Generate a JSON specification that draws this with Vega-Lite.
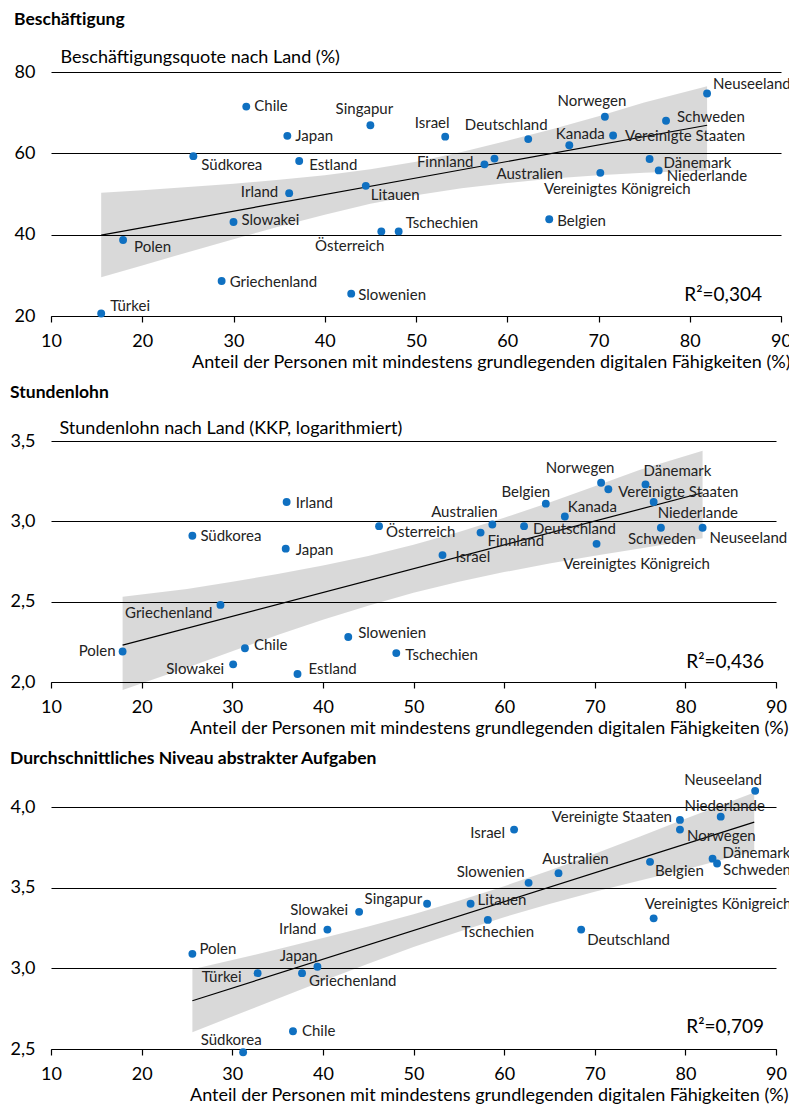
{
  "$schema": "https://vega.github.io/schema/vega-lite/v6.json",
  "background": "white",
  "padding": {"left": 10, "top": 11, "right": 0, "bottom": 0},
  "config": {
    "font": "Lato",
    "view": {"stroke": null},
    "title": {"anchor": "start", "frame": "bounds", "fontSize": 17.5, "fontWeight": "bold", "color": "#000", "baseline": "bottom"},
    "axisX": {"grid": false, "domainColor": "#000", "domainWidth": 1.2, "tickColor": "#000", "tickSize": 6, "tickWidth": 1.2, "labelFontSize": 18, "labelColor": "#000", "labelPadding": 10, "labelFlush": false, "titleFontSize": 18, "titleFontWeight": "normal", "titleColor": "#000", "titleAlign": "right", "titleBaseline": "alphabetic"},
    "axisY": {"grid": true, "gridColor": "#000", "gridWidth": 1.2, "gridOpacity": 1, "domain": false, "ticks": false, "labelFontSize": 18, "labelColor": "#000", "labelPadding": 16, "labelFlush": false, "titleAngle": 0, "titleAlign": "left", "titleBaseline": "alphabetic", "titleFontSize": 18, "titleFontWeight": "normal", "titleColor": "#000"},
    "text": {"fontSize": 15, "baseline": "middle", "color": "#222"}
  },
  "datasets": {
    "beschaeftigung": [
      {"land": "Chile", "x": 31.4, "y": 71.5},
      {"land": "Singapur", "x": 45.0, "y": 66.9},
      {"land": "Japan", "x": 35.9, "y": 64.3},
      {"land": "Südkorea", "x": 25.6, "y": 59.3},
      {"land": "Estland", "x": 37.2, "y": 58.1},
      {"land": "Irland", "x": 36.1, "y": 50.2},
      {"land": "Litauen", "x": 44.5, "y": 52.0},
      {"land": "Slowakei", "x": 30.0, "y": 43.1},
      {"land": "Polen", "x": 17.9, "y": 38.7},
      {"land": "Österreich", "x": 46.2, "y": 40.8},
      {"land": "Tschechien", "x": 48.1, "y": 40.8},
      {"land": "Griechenland", "x": 28.7, "y": 28.6},
      {"land": "Slowenien", "x": 42.9, "y": 25.5},
      {"land": "Türkei", "x": 15.5, "y": 20.6},
      {"land": "Israel", "x": 53.2, "y": 64.1},
      {"land": "Deutschland", "x": 62.3, "y": 63.5},
      {"land": "Kanada", "x": 66.8, "y": 62.0},
      {"land": "Norwegen", "x": 70.7, "y": 69.0},
      {"land": "Vereinigte Staaten", "x": 71.6, "y": 64.4},
      {"land": "Schweden", "x": 77.4, "y": 68.0},
      {"land": "Neuseeland", "x": 81.9, "y": 74.7},
      {"land": "Finnland", "x": 57.5, "y": 57.3},
      {"land": "Australien", "x": 58.6, "y": 58.7},
      {"land": "Vereinigtes Königreich", "x": 70.2, "y": 55.2},
      {"land": "Dänemark", "x": 75.6, "y": 58.6},
      {"land": "Niederlande", "x": 76.6, "y": 55.8},
      {"land": "Belgien", "x": 64.6, "y": 43.8}
    ],
    "band_beschaeftigung": [
      {"x": 15.5, "unten": 29.5, "oben": 50.3},
      {"x": 20, "unten": 32.4, "oben": 50.9},
      {"x": 25, "unten": 35.7, "oben": 51.7},
      {"x": 30, "unten": 38.9, "oben": 52.5},
      {"x": 35, "unten": 42.0, "oben": 53.5},
      {"x": 40, "unten": 44.9, "oben": 54.6},
      {"x": 45, "unten": 47.6, "oben": 56.1},
      {"x": 50, "unten": 49.7, "oben": 57.9},
      {"x": 55, "unten": 51.4, "oben": 60.3},
      {"x": 60, "unten": 52.7, "oben": 63.1},
      {"x": 65, "unten": 53.8, "oben": 66.0},
      {"x": 70, "unten": 54.6, "oben": 69.1},
      {"x": 75, "unten": 55.2, "oben": 72.5},
      {"x": 81.9, "unten": 55.8, "oben": 76.5}
    ],
    "fit_beschaeftigung": [
      {"x": 15.5, "y": 39.9},
      {"x": 81.9, "y": 66.9}
    ],
    "lohn": [
      {"land": "Irland", "x": 36.0, "y": 3.12},
      {"land": "Südkorea", "x": 25.6, "y": 2.91},
      {"land": "Japan", "x": 35.9, "y": 2.83},
      {"land": "Österreich", "x": 46.2, "y": 2.97},
      {"land": "Griechenland", "x": 28.7, "y": 2.48},
      {"land": "Slowenien", "x": 42.8, "y": 2.28},
      {"land": "Chile", "x": 31.4, "y": 2.21},
      {"land": "Polen", "x": 17.9, "y": 2.19},
      {"land": "Slowakei", "x": 30.1, "y": 2.11},
      {"land": "Estland", "x": 37.2, "y": 2.05},
      {"land": "Tschechien", "x": 48.1, "y": 2.18},
      {"land": "Israel", "x": 53.2, "y": 2.79},
      {"land": "Finnland", "x": 57.4, "y": 2.93},
      {"land": "Australien", "x": 58.7, "y": 2.98},
      {"land": "Deutschland", "x": 62.2, "y": 2.97},
      {"land": "Belgien", "x": 64.6, "y": 3.11},
      {"land": "Kanada", "x": 66.7, "y": 3.03},
      {"land": "Norwegen", "x": 70.7, "y": 3.24},
      {"land": "Vereinigte Staaten", "x": 71.5, "y": 3.2},
      {"land": "Dänemark", "x": 75.6, "y": 3.23},
      {"land": "Niederlande", "x": 76.5, "y": 3.12},
      {"land": "Schweden", "x": 77.3, "y": 2.96},
      {"land": "Neuseeland", "x": 81.9, "y": 2.96},
      {"land": "Vereinigtes Königreich", "x": 70.2, "y": 2.86}
    ],
    "band_lohn": [
      {"x": 17.9, "unten": 1.95, "oben": 2.53},
      {"x": 25, "unten": 2.089, "oben": 2.579},
      {"x": 30, "unten": 2.192, "oben": 2.624},
      {"x": 35, "unten": 2.292, "oben": 2.672},
      {"x": 40, "unten": 2.387, "oben": 2.725},
      {"x": 45, "unten": 2.475, "oben": 2.785},
      {"x": 50, "unten": 2.555, "oben": 2.855},
      {"x": 55, "unten": 2.624, "oben": 2.934},
      {"x": 60, "unten": 2.684, "oben": 3.022},
      {"x": 65, "unten": 2.737, "oben": 3.117},
      {"x": 70, "unten": 2.786, "oben": 3.218},
      {"x": 75, "unten": 2.831, "oben": 3.321},
      {"x": 81.9, "unten": 2.895, "oben": 3.44}
    ],
    "fit_lohn": [
      {"x": 17.9, "y": 2.23},
      {"x": 81.9, "y": 3.178}
    ],
    "aufgaben": [
      {"land": "Slowakei", "x": 44.0, "y": 3.35},
      {"land": "Irland", "x": 40.5, "y": 3.24},
      {"land": "Polen", "x": 25.6, "y": 3.09},
      {"land": "Türkei", "x": 32.8, "y": 2.97},
      {"land": "Griechenland", "x": 37.7, "y": 2.97},
      {"land": "Japan", "x": 39.4, "y": 3.01},
      {"land": "Chile", "x": 36.7, "y": 2.61},
      {"land": "Südkorea", "x": 31.2, "y": 2.48},
      {"land": "Singapur", "x": 51.5, "y": 3.4},
      {"land": "Litauen", "x": 56.3, "y": 3.4},
      {"land": "Tschechien", "x": 58.2, "y": 3.3},
      {"land": "Slowenien", "x": 62.7, "y": 3.53},
      {"land": "Australien", "x": 66.0, "y": 3.59},
      {"land": "Israel", "x": 61.1, "y": 3.86},
      {"land": "Deutschland", "x": 68.5, "y": 3.24},
      {"land": "Belgien", "x": 76.1, "y": 3.66},
      {"land": "Vereinigtes Königreich", "x": 76.5, "y": 3.31},
      {"land": "Vereinigte Staaten", "x": 79.4, "y": 3.92},
      {"land": "Norwegen", "x": 79.4, "y": 3.86},
      {"land": "Niederlande", "x": 83.9, "y": 3.94},
      {"land": "Neuseeland", "x": 87.7, "y": 4.1},
      {"land": "Dänemark", "x": 83.0, "y": 3.68},
      {"land": "Schweden", "x": 83.5, "y": 3.65}
    ],
    "band_aufgaben": [
      {"x": 25.6, "unten": 2.604, "oben": 2.994},
      {"x": 30, "unten": 2.701, "oben": 3.051},
      {"x": 35, "unten": 2.812, "oben": 3.118},
      {"x": 40, "unten": 2.922, "oben": 3.188},
      {"x": 45, "unten": 3.029, "oben": 3.259},
      {"x": 50, "unten": 3.132, "oben": 3.336},
      {"x": 55, "unten": 3.227, "oben": 3.419},
      {"x": 60, "unten": 3.317, "oben": 3.509},
      {"x": 65, "unten": 3.398, "oben": 3.607},
      {"x": 70, "unten": 3.474, "oben": 3.71},
      {"x": 75, "unten": 3.545, "oben": 3.817},
      {"x": 80, "unten": 3.613, "oben": 3.927},
      {"x": 87.6, "unten": 3.725, "oben": 4.09}
    ],
    "fit_aufgaben": [
      {"x": 25.6, "y": 2.799},
      {"x": 87.6, "y": 3.906}
    ]
  },
  "columns": 1,
  "align": "none",
  "spacing": 13,
  "concat": [
    {
      "title": {"text": "Beschäftigung", "offset": 19.5},
      "vconcat": [{
        "width": 730,
        "height": 244,
        "title": {"text": "R²=0,304", "orient": "bottom", "anchor": "end", "frame": "group", "fontSize": 19, "fontWeight": "normal", "baseline": "bottom", "offset": -66, "dx": -19},
        "encoding": {
          "x": {"field": "x", "type": "quantitative", "scale": {"domain": [10, 90], "nice": false, "zero": false},
                "axis": {"values": [10, 20, 30, 40, 50, 60, 70, 80, 90], "title": "Anteil der Personen mit mindestens grundlegenden digitalen Fähigkeiten (%)", "titleX": 739, "titleY": 51}},
          "y": {"field": "y", "type": "quantitative", "scale": {"domain": [20, 80], "nice": false, "zero": false},
                "axis": {"values": [20, 40, 60, 80], "title": "Beschäftigungsquote nach Land (%)", "titleX": 9, "titleY": -10}}
        },
        "layer": [
          {"data": {"name": "band_beschaeftigung"}, "mark": {"type": "area", "color": "#000", "opacity": 0.15},
           "encoding": {"y": {"field": "unten", "type": "quantitative", "scale": {"domain": [20, 80], "nice": false, "zero": false},
                              "axis": {"values": [20, 40, 60, 80], "title": "Beschäftigungsquote nach Land (%)", "titleX": 9, "titleY": -10}},
                        "y2": {"field": "oben"}}},
          {"data": {"name": "fit_beschaeftigung"}, "mark": {"type": "line", "color": "#000", "strokeWidth": 1.2}, "encoding": {}},
          {"data": {"name": "beschaeftigung"}, "mark": {"type": "circle", "size": 62, "color": "#0f70c1", "opacity": 1}, "encoding": {}},
          {"data": {"name": "beschaeftigung"}, "encoding": {"text": {"field": "land"}},
           "layer": [
            {"transform": [{"filter": "datum.land === 'Chile'"}], "mark": {"type": "text", "align": "left", "dx": 8, "dy": -1}},
            {"transform": [{"filter": "datum.land === 'Singapur'"}], "mark": {"type": "text", "align": "center", "dx": -6, "dy": -16}},
            {"transform": [{"filter": "datum.land === 'Japan'"}], "mark": {"type": "text", "align": "left", "dx": 8, "dy": 0}},
            {"transform": [{"filter": "datum.land === 'Südkorea'"}], "mark": {"type": "text", "align": "left", "dx": 8, "dy": 9}},
            {"transform": [{"filter": "datum.land === 'Estland'"}], "mark": {"type": "text", "align": "left", "dx": 10, "dy": 4}},
            {"transform": [{"filter": "datum.land === 'Irland'"}], "mark": {"type": "text", "align": "right", "dx": -11, "dy": -1}},
            {"transform": [{"filter": "datum.land === 'Litauen'"}], "mark": {"type": "text", "align": "left", "dx": 5, "dy": 9}},
            {"transform": [{"filter": "datum.land === 'Slowakei'"}], "mark": {"type": "text", "align": "left", "dx": 8, "dy": -2}},
            {"transform": [{"filter": "datum.land === 'Polen'"}], "mark": {"type": "text", "align": "left", "dx": 11, "dy": 7}},
            {"transform": [{"filter": "datum.land === 'Österreich'"}], "mark": {"type": "text", "align": "right", "dx": 3, "dy": 15}},
            {"transform": [{"filter": "datum.land === 'Tschechien'"}], "mark": {"type": "text", "align": "left", "dx": 7, "dy": -8}},
            {"transform": [{"filter": "datum.land === 'Griechenland'"}], "mark": {"type": "text", "align": "left", "dx": 8, "dy": 1}},
            {"transform": [{"filter": "datum.land === 'Slowenien'"}], "mark": {"type": "text", "align": "left", "dx": 7, "dy": 1}},
            {"transform": [{"filter": "datum.land === 'Türkei'"}], "mark": {"type": "text", "align": "left", "dx": 9, "dy": -8}},
            {"transform": [{"filter": "datum.land === 'Israel'"}], "mark": {"type": "text", "align": "center", "dx": -13, "dy": -14}},
            {"transform": [{"filter": "datum.land === 'Deutschland'"}], "mark": {"type": "text", "align": "center", "dx": -22, "dy": -14}},
            {"transform": [{"filter": "datum.land === 'Kanada'"}], "mark": {"type": "text", "align": "center", "dx": 11, "dy": -11}},
            {"transform": [{"filter": "datum.land === 'Norwegen'"}], "mark": {"type": "text", "align": "center", "dx": -13, "dy": -16}},
            {"transform": [{"filter": "datum.land === 'Vereinigte Staaten'"}], "mark": {"type": "text", "align": "left", "dx": 12, "dy": 1}},
            {"transform": [{"filter": "datum.land === 'Schweden'"}], "mark": {"type": "text", "align": "left", "dx": 11, "dy": -4}},
            {"transform": [{"filter": "datum.land === 'Neuseeland'"}], "mark": {"type": "text", "align": "left", "dx": 6, "dy": -10}},
            {"transform": [{"filter": "datum.land === 'Finnland'"}], "mark": {"type": "text", "align": "right", "dx": -11, "dy": -2}},
            {"transform": [{"filter": "datum.land === 'Australien'"}], "mark": {"type": "text", "align": "left", "dx": 2, "dy": 15}},
            {"transform": [{"filter": "datum.land === 'Vereinigtes Königreich'"}], "mark": {"type": "text", "align": "center", "dx": 17, "dy": 16}},
            {"transform": [{"filter": "datum.land === 'Dänemark'"}], "mark": {"type": "text", "align": "left", "dx": 14, "dy": 4}},
            {"transform": [{"filter": "datum.land === 'Niederlande'"}], "mark": {"type": "text", "align": "left", "dx": 8, "dy": 6}},
            {"transform": [{"filter": "datum.land === 'Belgien'"}], "mark": {"type": "text", "align": "left", "dx": 8, "dy": 2}}
           ]}
        ]
      }]
    },
    {
      "title": {"text": "Stundenlohn", "offset": 17.5},
      "vconcat": [{
        "width": 725,
        "height": 241,
        "title": {"text": "R²=0,436", "orient": "bottom", "anchor": "end", "frame": "group", "fontSize": 19, "fontWeight": "normal", "baseline": "bottom", "offset": -65, "dx": -12},
        "encoding": {
          "x": {"field": "x", "type": "quantitative", "scale": {"domain": [10, 90], "nice": false, "zero": false},
                "axis": {"values": [10, 20, 30, 40, 50, 60, 70, 80, 90], "title": "Anteil der Personen mit mindestens grundlegenden digitalen Fähigkeiten (%)", "titleX": 737, "titleY": 51}},
          "y": {"field": "y", "type": "quantitative", "scale": {"domain": [2, 3.5], "nice": false, "zero": false},
                "axis": {"values": [2, 2.5, 3, 3.5], "labelExpr": "replace(format(datum.value, '.1f'), '.', ',')", "title": "Stundenlohn nach Land (KKP, logarithmiert)", "titleX": 8, "titleY": -8}}
        },
        "layer": [
          {"data": {"name": "band_lohn"}, "mark": {"type": "area", "color": "#000", "opacity": 0.15},
           "encoding": {"y": {"field": "unten", "type": "quantitative", "scale": {"domain": [2, 3.5], "nice": false, "zero": false},
                              "axis": {"values": [2, 2.5, 3, 3.5], "labelExpr": "replace(format(datum.value, '.1f'), '.', ',')", "title": "Stundenlohn nach Land (KKP, logarithmiert)", "titleX": 8, "titleY": -8}},
                        "y2": {"field": "oben"}}},
          {"data": {"name": "fit_lohn"}, "mark": {"type": "line", "color": "#000", "strokeWidth": 1.2}, "encoding": {}},
          {"data": {"name": "lohn"}, "mark": {"type": "circle", "size": 62, "color": "#0f70c1", "opacity": 1}, "encoding": {}},
          {"data": {"name": "lohn"}, "encoding": {"text": {"field": "land"}},
           "layer": [
            {"transform": [{"filter": "datum.land === 'Irland'"}], "mark": {"type": "text", "align": "left", "dx": 9, "dy": 1}},
            {"transform": [{"filter": "datum.land === 'Südkorea'"}], "mark": {"type": "text", "align": "left", "dx": 8, "dy": 0}},
            {"transform": [{"filter": "datum.land === 'Japan'"}], "mark": {"type": "text", "align": "left", "dx": 10, "dy": 1}},
            {"transform": [{"filter": "datum.land === 'Österreich'"}], "mark": {"type": "text", "align": "left", "dx": 7, "dy": 6}},
            {"transform": [{"filter": "datum.land === 'Griechenland'"}], "mark": {"type": "text", "align": "right", "dx": -8, "dy": 8}},
            {"transform": [{"filter": "datum.land === 'Slowenien'"}], "mark": {"type": "text", "align": "left", "dx": 10, "dy": -4}},
            {"transform": [{"filter": "datum.land === 'Chile'"}], "mark": {"type": "text", "align": "left", "dx": 9, "dy": -3}},
            {"transform": [{"filter": "datum.land === 'Polen'"}], "mark": {"type": "text", "align": "right", "dx": -7, "dy": 0}},
            {"transform": [{"filter": "datum.land === 'Slowakei'"}], "mark": {"type": "text", "align": "right", "dx": -9, "dy": 5}},
            {"transform": [{"filter": "datum.land === 'Estland'"}], "mark": {"type": "text", "align": "left", "dx": 11, "dy": -5}},
            {"transform": [{"filter": "datum.land === 'Tschechien'"}], "mark": {"type": "text", "align": "left", "dx": 9, "dy": 2}},
            {"transform": [{"filter": "datum.land === 'Israel'"}], "mark": {"type": "text", "align": "left", "dx": 13, "dy": 2}},
            {"transform": [{"filter": "datum.land === 'Finnland'"}], "mark": {"type": "text", "align": "left", "dx": 7, "dy": 8}},
            {"transform": [{"filter": "datum.land === 'Australien'"}], "mark": {"type": "text", "align": "center", "dx": -28, "dy": -13}},
            {"transform": [{"filter": "datum.land === 'Deutschland'"}], "mark": {"type": "text", "align": "left", "dx": 9, "dy": 3}},
            {"transform": [{"filter": "datum.land === 'Belgien'"}], "mark": {"type": "text", "align": "center", "dx": -20, "dy": -12}},
            {"transform": [{"filter": "datum.land === 'Kanada'"}], "mark": {"type": "text", "align": "left", "dx": 3, "dy": -10}},
            {"transform": [{"filter": "datum.land === 'Norwegen'"}], "mark": {"type": "text", "align": "center", "dx": -21, "dy": -15}},
            {"transform": [{"filter": "datum.land === 'Vereinigte Staaten'"}], "mark": {"type": "text", "align": "left", "dx": 10, "dy": 3}},
            {"transform": [{"filter": "datum.land === 'Dänemark'"}], "mark": {"type": "text", "align": "center", "dx": 32, "dy": -13}},
            {"transform": [{"filter": "datum.land === 'Niederlande'"}], "mark": {"type": "text", "align": "left", "dx": 4, "dy": 11}},
            {"transform": [{"filter": "datum.land === 'Schweden'"}], "mark": {"type": "text", "align": "center", "dx": 1, "dy": 11}},
            {"transform": [{"filter": "datum.land === 'Neuseeland'"}], "mark": {"type": "text", "align": "left", "dx": 7, "dy": 10}},
            {"transform": [{"filter": "datum.land === 'Vereinigtes Königreich'"}], "mark": {"type": "text", "align": "center", "dx": 40, "dy": 20}}
           ]}
        ]
      }]
    },
    {
      "title": {"text": "Durchschnittliches Niveau abstrakter Aufgaben", "offset": 5},
      "vconcat": [{
        "width": 725,
        "height": 242,
        "title": {"text": "R²=0,709", "orient": "bottom", "anchor": "end", "frame": "group", "fontSize": 19, "fontWeight": "normal", "baseline": "bottom", "offset": -68, "dx": -12},
        "encoding": {
          "x": {"field": "x", "type": "quantitative", "scale": {"domain": [10, 90], "nice": false, "zero": false},
                "axis": {"values": [10, 20, 30, 40, 50, 60, 70, 80, 90], "title": "Anteil der Personen mit mindestens grundlegenden digitalen Fähigkeiten (%)", "titleX": 737, "titleY": 51.5}},
          "y": {"field": "y", "type": "quantitative", "scale": {"domain": [2.5, 4], "nice": false, "zero": false},
                "axis": {"values": [2.5, 3, 3.5, 4], "labelExpr": "replace(format(datum.value, '.1f'), '.', ',')", "title": null}}
        },
        "layer": [
          {"data": {"name": "band_aufgaben"}, "mark": {"type": "area", "color": "#000", "opacity": 0.15},
           "encoding": {"y": {"field": "unten", "type": "quantitative", "scale": {"domain": [2.5, 4], "nice": false, "zero": false},
                              "axis": {"values": [2.5, 3, 3.5, 4], "labelExpr": "replace(format(datum.value, '.1f'), '.', ',')", "title": null}},
                        "y2": {"field": "oben"}}},
          {"data": {"name": "fit_aufgaben"}, "mark": {"type": "line", "color": "#000", "strokeWidth": 1.2}, "encoding": {}},
          {"data": {"name": "aufgaben"}, "mark": {"type": "circle", "size": 62, "color": "#0f70c1", "opacity": 1}, "encoding": {}},
          {"data": {"name": "aufgaben"}, "encoding": {"text": {"field": "land"}},
           "layer": [
            {"transform": [{"filter": "datum.land === 'Slowakei'"}], "mark": {"type": "text", "align": "right", "dx": -11, "dy": -2}},
            {"transform": [{"filter": "datum.land === 'Irland'"}], "mark": {"type": "text", "align": "right", "dx": -11, "dy": -1}},
            {"transform": [{"filter": "datum.land === 'Polen'"}], "mark": {"type": "text", "align": "left", "dx": 7, "dy": -5}},
            {"transform": [{"filter": "datum.land === 'Türkei'"}], "mark": {"type": "text", "align": "right", "dx": -16, "dy": 4}},
            {"transform": [{"filter": "datum.land === 'Japan'"}], "mark": {"type": "text", "align": "right", "dx": 0, "dy": -11}},
            {"transform": [{"filter": "datum.land === 'Griechenland'"}], "mark": {"type": "text", "align": "left", "dx": 7, "dy": 8}},
            {"transform": [{"filter": "datum.land === 'Chile'"}], "mark": {"type": "text", "align": "left", "dx": 9, "dy": 0}},
            {"transform": [{"filter": "datum.land === 'Südkorea'"}], "mark": {"type": "text", "align": "center", "dx": -12, "dy": -12}},
            {"transform": [{"filter": "datum.land === 'Singapur'"}], "mark": {"type": "text", "align": "right", "dx": -5, "dy": -5}},
            {"transform": [{"filter": "datum.land === 'Litauen'"}], "mark": {"type": "text", "align": "left", "dx": 7, "dy": -4}},
            {"transform": [{"filter": "datum.land === 'Tschechien'"}], "mark": {"type": "text", "align": "center", "dx": 10, "dy": 12}},
            {"transform": [{"filter": "datum.land === 'Slowenien'"}], "mark": {"type": "text", "align": "right", "dx": -4, "dy": -11}},
            {"transform": [{"filter": "datum.land === 'Australien'"}], "mark": {"type": "text", "align": "center", "dx": 17, "dy": -14}},
            {"transform": [{"filter": "datum.land === 'Israel'"}], "mark": {"type": "text", "align": "right", "dx": -9, "dy": 3}},
            {"transform": [{"filter": "datum.land === 'Deutschland'"}], "mark": {"type": "text", "align": "left", "dx": 6, "dy": 10}},
            {"transform": [{"filter": "datum.land === 'Belgien'"}], "mark": {"type": "text", "align": "left", "dx": 5, "dy": 9}},
            {"transform": [{"filter": "datum.land === 'Vereinigtes Königreich'"}], "mark": {"type": "text", "align": "left", "dx": -9, "dy": -14}},
            {"transform": [{"filter": "datum.land === 'Vereinigte Staaten'"}], "mark": {"type": "text", "align": "right", "dx": -8, "dy": -3}},
            {"transform": [{"filter": "datum.land === 'Norwegen'"}], "mark": {"type": "text", "align": "left", "dx": 7, "dy": 6}},
            {"transform": [{"filter": "datum.land === 'Niederlande'"}], "mark": {"type": "text", "align": "center", "dx": 4, "dy": -11}},
            {"transform": [{"filter": "datum.land === 'Neuseeland'"}], "mark": {"type": "text", "align": "center", "dx": -32, "dy": -11}},
            {"transform": [{"filter": "datum.land === 'Dänemark'"}], "mark": {"type": "text", "align": "left", "dx": 10, "dy": -6}},
            {"transform": [{"filter": "datum.land === 'Schweden'"}], "mark": {"type": "text", "align": "left", "dx": 6, "dy": 7}}
           ]}
        ]
      }]
    }
  ]
}
